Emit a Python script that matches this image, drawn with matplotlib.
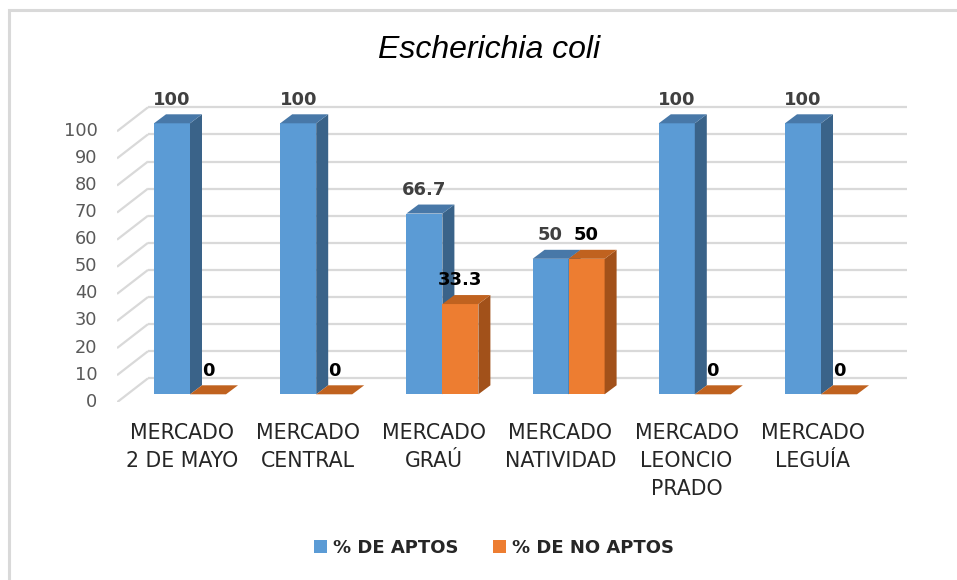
import matplotlib
matplotlib.use("Agg")
import matplotlib.pyplot as plt
from matplotlib.patches import Patch, Rectangle
import numpy as np

# ---------------- data ----------------
categories = ["MERCADO\n2 DE MAYO", "MERCADO\nCENTRAL", "MERCADO\nGRAÚ",
              "MERCADO\nNATIVIDAD", "MERCADO\nLEONCIO\nPRADO", "MERCADO\nLEGUÍA"]
aptos = [100, 100, 66.7, 50, 100, 100]
no_aptos = [0, 0, 33.3, 50, 0, 0]
aptos_labels = ["100", "100", "66.7", "50", "100", "100"]
no_aptos_labels = ["0", "0", "33.3", "50", "0", "0"]
series_names = ["% DE APTOS", "% DE NO APTOS"]
yticks = [0, 10, 20, 30, 40, 50, 60, 70, 80, 90, 100]
title = "Escherichia coli"

# ---------------- style ----------------
W, H = 957, 580
DPI = 100
PX_CAT = 126.2          # pixels per category
PX_VAL = 2.71           # pixels per value unit

blue_front, blue_top, blue_side = "#5B9BD5", "#4878A8", "#3A6389"
orng_front, orng_top, orng_side = "#ED7D31", "#C0621F", "#A2511A"
grid_c = "#D9D9D9"

bar_w = 36 / PX_CAT
bdx, bdy = 12 / PX_CAT, 9 / PX_VAL          # bar depth
wdx, wdy = 20.7 / PX_CAT, 16 / PX_VAL       # back wall offset
fdx, fdy = -10.3 / PX_CAT, -8 / PX_VAL      # front edge offset

fig = plt.figure(figsize=(W / DPI, H / DPI), dpi=DPI)
fig.patch.set_facecolor("white")

# axes box in pixels
ax_l, ax_r, ax_b, ax_t = 117, 907, 402.3, 90
ax = fig.add_axes([ax_l / W, 1 - ax_b / H, (ax_r - ax_l) / W, (ax_b - ax_t) / H])
ax.set_xlim((ax_l - 190) / PX_CAT, (ax_r - 190) / PX_CAT)
ax.set_ylim((394.3 - ax_b) / PX_VAL, (394.3 - ax_t) / PX_VAL)
for s in ax.spines.values():
    s.set_visible(False)
ax.patch.set_visible(False)

x0_wall = ax.get_xlim()[0]
x1_wall = ax.get_xlim()[1]
xb_wall = x0_wall - fdx + wdx   # back wall left edge

# gridlines: back wall + left wall diagonals
for v in yticks:
    ax.plot([xb_wall, x1_wall], [v + wdy, v + wdy],
            color=grid_c, lw=1.6, zorder=1, solid_capstyle="butt")
    ax.plot([x0_wall, xb_wall], [v + fdy, v + wdy],
            color=grid_c, lw=1.6, zorder=1, solid_capstyle="butt")

x = np.arange(len(categories))


def draw_bar3d(x0, h, front, top, side, z):
    x1 = x0 + bar_w
    ax.bar(x0, h, width=bar_w, align="edge", color=front, zorder=z,
           linewidth=0)
    ax.fill([x1, x1 + bdx, x1 + bdx, x1], [0, bdy, h + bdy, h],
            color=side, zorder=z, linewidth=0)
    ax.fill([x0, x1, x1 + bdx, x0 + bdx], [h, h, h + bdy, h + bdy],
            color=top, zorder=z, linewidth=0)


for i in range(len(categories)):
    draw_bar3d(x[i] - bar_w, aptos[i], blue_front, blue_top, blue_side, 3 + 2 * i)
    draw_bar3d(x[i], no_aptos[i], orng_front, orng_top, orng_side, 4 + 2 * i)
    ax.text(x[i] - bar_w / 2, aptos[i] + 8.7, aptos_labels[i], ha="center",
            va="center", fontsize=13, fontweight="bold", color="#404040",
            zorder=20)
    ax.text(x[i] + bar_w / 2, no_aptos[i] + 8.7, no_aptos_labels[i],
            ha="center", va="center", fontsize=13, fontweight="bold",
            color="#000000", zorder=20)

# axis ticks
ax.set_yticks([v - 2.0 for v in yticks], labels=[str(v) for v in yticks])
ax.tick_params(axis="y", length=0, pad=14, labelsize=12.8, labelcolor="#595959")
ax.set_xticks(x - 0.065, labels=categories)
ax.tick_params(axis="x", length=0, pad=15, labelsize=14.8, labelcolor="#262626")
for lab in ax.get_xticklabels():
    lab.set_linespacing(1.5)

# title
fig.text(489 / W, 1 - 50 / H, title, ha="center", va="center",
         fontsize=23, fontstyle="italic", family="Liberation Sans",
         color="#000000")

# legend
handles = [Patch(facecolor=blue_front, edgecolor="none"),
           Patch(facecolor=orng_front, edgecolor="none")]
leg = fig.legend(handles, series_names, loc="center", ncol=2,
                 bbox_to_anchor=(494 / W, 1 - 548 / H), frameon=False,
                 prop={"size": 13, "weight": "bold"},
                 handlelength=0.73, handleheight=0.73, handletextpad=0.35,
                 columnspacing=1.9, labelcolor="#262626")

# chart border (top and left visible)
fig.add_artist(Rectangle((9 / W, -0.1), 1.2, 1 - 10 / H + 0.1,
                         transform=fig.transFigure, fill=False,
                         edgecolor=grid_c, lw=2.2))

fig.savefig("out.png", dpi=DPI, facecolor="white")
